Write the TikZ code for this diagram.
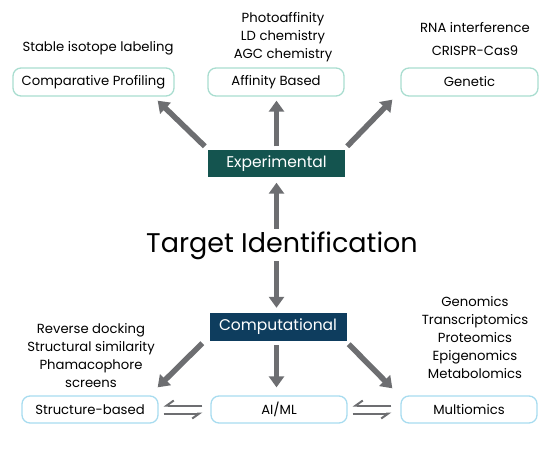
\documentclass[tikz,border=0pt]{standalone}
\usepackage{fontspec}
\setmainfont{Poppins}
\usetikzlibrary{arrows.meta}
\definecolor{expgreen}{HTML}{14544F}
\definecolor{compblue}{HTML}{0E3D5E}
\definecolor{mintline}{HTML}{A9DDD0}
\definecolor{skyline}{HTML}{A8DCEF}
\definecolor{arrowgray}{HTML}{6D6E71}

\begin{document}
\begin{tikzpicture}[x=1pt,y=-1pt]
	\tikzset{box/.style 2 args={draw=#1, line width=1.3pt, rounded corners=8pt, minimum width=#2, minimum height=28pt, inner sep=0pt, font=\fontsize{13.2}{15}\selectfont},
		head/.style={fill=#1, text=white, minimum width=137pt, minimum height=27pt, inner sep=0pt, font=\fontsize{15.5}{17}\selectfont},
		fat/.style={arrowgray, line width=5.5pt, -{Triangle[width=15pt,length=11pt]}},
		harp/.style={arrowgray, line width=2pt, -{Straight Barb[harpoon,swap,length=7pt,width=10pt]}},
		list/.style={align=center, font=\fontsize{13.2}{18}\selectfont}};
	\useasboundingbox (0,0) rectangle (551,465);
	
	% experimental side
	\node[box={mintline}{161pt}] (cp) at (93.5,82) {Comparative Profiling};
	\node[box={mintline}{136pt}] (ab) at (276,82) {Affinity Based};
	\node[box={mintline}{137pt}] (gen) at (469.5,82) {Genetic};
	\node[list] (cpl) at (98,48) {Stable isotope labeling};
	\node[list] (abl) at (283,37) {Photoaffinity\\LD chemistry\\AGC chemistry};
	\node[list, font=\fontsize{13.2}{23}\selectfont] (genl) at (475,39.5) {RNA interference\\CRISPR-Cas9};
	\node[head=expgreen] (exp) at (276.5,164) {Experimental};
	
	\node[inner sep=0pt, font=\fontsize{27}{30}\selectfont] (ti) at (282,246) {Target Identification};
	
	% computational side
	\node[head=compblue, minimum height=28pt] (cmp) at (278,327) {Computational};
	\node[box={skyline}{136pt}, minimum height=27pt] (sb) at (90,409.5) {Structure-based};
	\node[box={skyline}{136pt}, minimum height=27pt] (ai) at (279,409.5) {AI/ML};
	\node[box={skyline}{136pt}, minimum height=27pt] (mo) at (469,409.5) {Multiomics};
	\node[list] (sbl) at (91,356) {Reverse docking\\Structural similarity\\Phamacophore\\screens};
	\node[list] (mol) at (475,338) {Genomics\\Transcriptomics\\Proteomics\\Epigenomics\\Metabolomics};
	
	\draw[fat] ([xshift=-3pt,yshift=4pt]exp.north west) -- ([xshift=-17pt,yshift=-4pt]cp.south east);
	\draw[fat, shorten <=4pt, shorten >=4pt] (exp.north) -- (exp.north |- ab.south);
	\draw[fat] ([xshift=2pt,yshift=4pt]exp.north east) -- ([xshift=-8pt,yshift=-3pt]gen.south west);
	
	\draw[fat, shorten <=3pt, shorten >=5pt] (ti.north -| exp.south) -- (exp.south);
	\draw[fat, shorten <=1pt, shorten >=5pt] (ti.south -| exp.south) -- (exp.south |- cmp.north);
	
	\draw[fat] ([xshift=-7pt,yshift=-2pt]cmp.south west) -- ([xshift=-1pt,yshift=8pt]sb.north east);
	\draw[fat, shorten <=4pt, shorten >=8pt] (exp.south |- cmp.south) -- (exp.south |- ai.north);
	\draw[fat] ([xshift=2pt,yshift=-3pt]cmp.south east) -- ([xshift=-8pt,yshift=7pt]mo.north west);
	
	\draw[harp] ([xshift=-8pt,yshift=4pt]ai.west) -- ([xshift=5pt,yshift=4pt]sb.east);
	\draw[harp] ([xshift=5pt,yshift=-4pt]sb.east) -- ([xshift=-8pt,yshift=-4pt]ai.west);
	\draw[harp] ([xshift=-9pt,yshift=4pt]mo.west) -- ([xshift=5pt,yshift=4pt]ai.east);
	\draw[harp] ([xshift=5pt,yshift=-4pt]ai.east) -- ([xshift=-9pt,yshift=-4pt]mo.west);
\end{tikzpicture}
\end{document}
